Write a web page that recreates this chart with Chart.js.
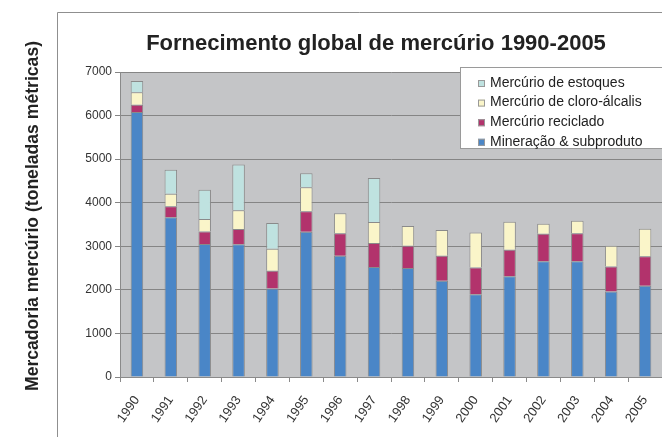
<!DOCTYPE html>
<html lang="pt-br">
<head>
<meta charset="UTF-8">
<title>Fornecimento global de mercúrio 1990-2005</title>
<script src="https://cdn.jsdelivr.net/npm/chart.js"></script>
<style>
  body { margin: 0; background: #fff; }
  #caixa { width: 662px; height: 437px; }
</style>
</head>
<body>
<div id="caixa"><canvas id="grafico1"></canvas></div>
<script>
  const anos = ['1990','1991','1992','1993','1994','1995','1996','1997','1998','1999','2000','2001','2002','2003','2004','2005']
  const mineracao  = [6080,3665,3050,3045,2030,3335,2785,2525,2500,2210,1900,2310,2655,2655,1965,2095]
  const reciclado  = [ 170, 255, 290, 350, 410, 470, 515, 550, 515, 575, 615, 610, 630, 645, 570, 675]
  const cloroAlc   = [ 285, 285, 285, 430, 505, 550, 460, 485, 450, 590, 800, 645, 230, 285, 480, 630]
  const estoques   = [ 260, 550, 675,1050, 590, 320,null,1010,null,null,null,null,null,null,null,null]
  const ticksY = [0,1000,2000,3000,4000,5000,6000,7000]

  const titulo = 'Fornecimento global de mercúrio 1990-2005'
  const tituloY = 'Mercadoria mercúrio (toneladas métricas)'
  const fonte = '"Liberation Sans", Arial, sans-serif'

  // moldura, fundo cinza, titulos e legenda desenhados a mao
  const extras = {
    id: 'extras',
    beforeDraw(chart) {
      const c = chart.ctx, a = chart.chartArea
      c.save()
      c.fillStyle = '#c4c5c7'
      c.fillRect(a.left, a.top, a.right - a.left, a.bottom - a.top)
      c.strokeStyle = '#8f8f8f'
      c.lineWidth = 1
      c.beginPath()
      c.moveTo(57.5, 437); c.lineTo(57.5, 12.5); c.lineTo(662, 12.5)
      c.stroke()
      c.restore()
    },
    afterDraw(chart) {
      const c = chart.ctx
      c.save()
      c.fillStyle = '#222'
      c.textAlign = 'center'
      c.textBaseline = 'middle'
      c.font = 'bold 22px ' + fonte
      c.fillText(titulo, 376, 44)
      c.translate(33, 216)
      c.rotate(-Math.PI / 2)
      c.font = 'bold 17.6px ' + fonte
      c.fillText(tituloY, 0, 0)
      c.restore()

      // legenda
      c.save()
      c.fillStyle = '#fff'
      c.fillRect(460, 67, 210, 81)
      c.strokeStyle = '#9a9a9a'
      c.strokeRect(460.5, 67.5, 210, 81)
      const ds = chart.data.datasets.slice().reverse()
      c.font = '14px ' + fonte
      c.textAlign = 'left'
      c.textBaseline = 'middle'
      ds.forEach((d, i) => {
        const y = 83 + i * 19.6
        c.fillStyle = d.backgroundColor
        c.fillRect(478, y - 3, 7, 7)
        c.strokeStyle = '#999'
        c.strokeRect(478.5, y - 2.5, 6, 6)
        c.fillStyle = '#222'
        c.fillText(d.label, 490, y)
      })
      c.restore()
    }
  }

  const ctx = document.getElementById('grafico1')
  const borda = '#8a8a8a'
  const grafico1 = new Chart(ctx, {
    type: 'bar',
    data: {
      labels: anos,
      datasets: [
        { label: 'Mineração & subproduto', data: mineracao, backgroundColor: '#4a86c7' },
        { label: 'Mercúrio reciclado', data: reciclado, backgroundColor: '#b2336c' },
        { label: 'Mercúrio de cloro-álcalis', data: cloroAlc, backgroundColor: '#faf5c9' },
        { label: 'Mercúrio de estoques', data: estoques, backgroundColor: '#bfe2e0' }
      ].map(d => Object.assign(d, {
        borderColor: borda, borderWidth: 1,
        categoryPercentage: 1, barPercentage: 0.37
      }))
    },
    options: {
      responsive: true,
      maintainAspectRatio: false,
      animation: false,
      layout: { padding: { top: 72, right: -3, bottom: 0, left: 0 } },
      plugins: { legend: { display: false }, title: { display: false }, tooltip: { enabled: false } },
      scales: {
        x: {
          stacked: true,
          grid: { display: true, drawOnChartArea: false, color: '#8a8a8a', tickLength: 5 },
          border: { color: '#8a8a8a' },
          ticks: { color: '#333', font: { family: fonte, size: 13 }, minRotation: 55, maxRotation: 55, padding: 11 },
          afterFit: s => { s.height = 60; s.paddingRight = 0; s.paddingLeft = 0 }
        },
        y: {
          stacked: true,
          min: 0, max: 7000,
          afterBuildTicks: s => { s.ticks = ticksY.map(v => ({ value: v })) },
          grid: { color: '#858585', tickLength: 5 },
          border: { color: '#8a8a8a' },
          ticks: { color: '#333', font: { family: fonte, size: 12 }, padding: 3, callback: v => String(v) },
          afterFit: s => { s.width = 120 }
        }
      }
    },
    plugins: [extras]
  })
</script>
</body>
</html>
